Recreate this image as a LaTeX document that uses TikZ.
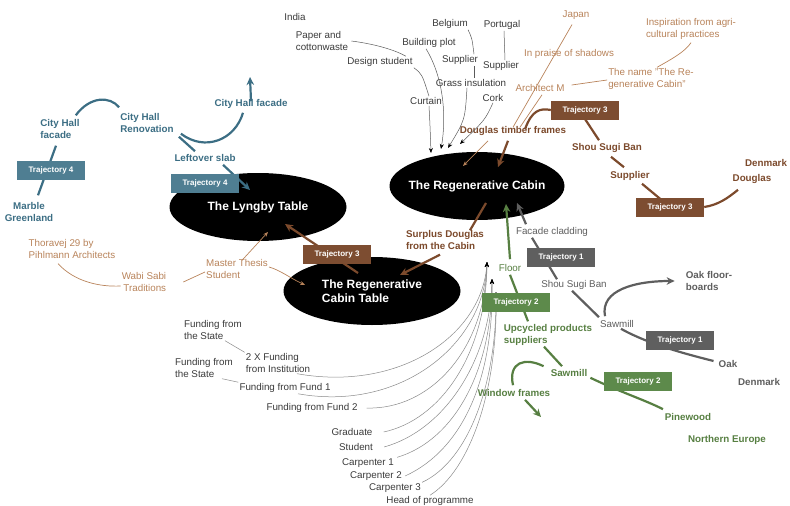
\documentclass[tikz,border=0pt]{standalone}
\usepackage{fontspec}
\setmainfont{Liberation Sans}
\usetikzlibrary{shapes.geometric,arrows.meta,backgrounds}

\definecolor{bluetxt}{HTML}{3C6E84}
\definecolor{bluebox}{HTML}{4F7E92}
\definecolor{browntxt}{HTML}{7C4A2C}
\definecolor{brownbox}{HTML}{7D4D31}
\definecolor{tantxt}{HTML}{B8835A}
\definecolor{graytxt}{HTML}{5E5E5E}
\definecolor{graybox}{HTML}{5F5F5F}
\definecolor{greentxt}{HTML}{577F42}
\definecolor{greenbox}{HTML}{5D8A4B}
\definecolor{textdark}{HTML}{3A3A3A}
\definecolor{linegray}{HTML}{8A8A8A}
\definecolor{topgray}{HTML}{5A5A5A}

\pgfdeclarelayer{back}
\pgfdeclarelayer{front}
\pgfsetlayers{back,main,front}

\tikzset{
  project/.style={ellipse, fill=black, text=white, font=\bfseries\fontsize{12}{14}\selectfont,
    minimum width=177pt, minimum height=68pt, inner sep=0pt, align=center},
  trajbox/.style={fill=#1, text=white, font=\bfseries\fontsize{8}{10}\selectfont,
    minimum width=68pt, minimum height=19pt, inner sep=0pt},
  word/.style={text=#1, font=\fontsize{9.8}{11.8}\selectfont, inner sep=1pt, align=left},
  word/.default=textdark,
  boldword/.style={text=#1, font=\bfseries\fontsize{9.8}{11.8}\selectfont, inner sep=1pt, align=left},
  heavy/.style={draw=#1, line width=2.2pt},
  tanline/.style={draw=tantxt, line width=0.7pt},
  fanline/.style={draw=linegray, line width=0.5pt},
  topline/.style={draw=topgray, line width=0.5pt},
  bigtip/.style={-{Stealth[length=8pt,width=7.5pt]}},
  smalltip/.style={-{Stealth[length=5pt,width=4pt]}},
  blacktip/.style={-{Stealth[length=5pt,width=4pt,color=black]}}
}

\begin{document}
\begin{tikzpicture}[x=1pt,y=-1pt]
\useasboundingbox (0,0) rectangle (790,506);

\begin{pgfonlayer}{back}
\node[project, minimum width=175pt, inner xsep=-7pt] (cabin) at (477,186) {The Regenerative Cabin};
\node[project] (lyngby) at (258,207) {The Lyngby Table};
\node[project, align=left] (cabtable) at (372,291) {The Regenerative\\Cabin Table};
\end{pgfonlayer}

\begin{pgfonlayer}{front}
\node[trajbox=bluebox] (t4left) at (51,170) {Trajectory 4};
\node[trajbox=bluebox] (t4lyngby) at (205,183) {Trajectory 4};
\node[trajbox=brownbox] (t3top) at (585,110) {Trajectory 3};
\node[trajbox=brownbox] (t3low) at (670,207) {Trajectory 3};
\node[trajbox=brownbox] (t3table) at (337,254) {Trajectory 3};
\node[trajbox=graybox] (t1upper) at (561,257) {Trajectory 1};
\node[trajbox=graybox] (t1lower) at (680,340) {Trajectory 1};
\node[trajbox=greenbox] (t2upper) at (516,302) {Trajectory 2};
\node[trajbox=greenbox] (t2lower) at (638,381) {Trajectory 2};
\end{pgfonlayer}

% trajectory 4
\node[boldword=bluetxt] (chfacade) at (60,129) {City Hall\\facade};
\node[boldword=bluetxt] (chreno) at (147,123) {City Hall\\Renovation};
\node[boldword=bluetxt] (chfacade2) at (251,104) {City Hall facade};
\node[boldword=bluetxt] (slab) at (205,158) {Leftover slab};
\node[boldword=bluetxt, align=center] (marble) at (29,212) {Marble\\Greenland};
\coordinate (upend) at (250,77);
\coordinate (lyngbyin) at (250,190);

\draw[heavy=bluetxt] ([xshift=-5pt,yshift=3pt]chfacade.north east) .. controls (90,96) and (110,96) .. ([yshift=5pt]chreno.north west);
\draw[heavy=bluetxt] ([xshift=-4pt,yshift=-6pt]chfacade.south) -- ([xshift=9pt,yshift=6pt]marble.north);
\draw[heavy=bluetxt] ([xshift=-10pt,yshift=2pt]slab.north) -- ([xshift=4pt,yshift=-3pt]chreno.south east);
\draw[heavy=bluetxt] ([xshift=6pt]chreno.south east) .. controls (205,152) and (235,140) .. ([xshift=-8pt,yshift=-3pt]chfacade2.south);
\draw[heavy=bluetxt, bigtip] ([yshift=-3pt]chfacade2.north) -- (upend);
\draw[heavy=bluetxt, bigtip] ([xshift=18pt,yshift=-2pt]slab.south) -- (lyngbyin);

% trajectory 3
\node[boldword=browntxt] (frames) at (513,131) {Douglas timber frames};
\node[boldword=browntxt] (sugiban) at (607,148) {Shou Sugi Ban};
\node[boldword=browntxt] (supplier) at (630,176) {Supplier};
\node[boldword=browntxt] (douglas) at (752,179) {Douglas};
\node[boldword=browntxt] (denmark) at (766,163) {Denmark};
\node[boldword=browntxt] (surplus) at (445,240) {Surplus Douglas\\from the Cabin};
\node[word=tantxt] (japan) at (576,15) {Japan};
\node[word=tantxt] (agri) at (691,29) {Inspiration from agri-\\cultural practices};
\node[word=tantxt] (shadows) at (569,54) {In praise of shadows};
\node[word=tantxt] (thename) at (651,79) {The name "The Re-\\generative Cabin"};
\node[word=tantxt] (architect) at (540,88) {Architect M};
\node[word=tantxt] (thoravej) at (72,249) {Thoravej 29 by\\Pihlmann Architects};
\node[word=tantxt, align=right] (wabisabi) at (144,282) {Wabi Sabi\\Traditions};
\node[word=tantxt] (thesis) at (237,269) {Master Thesis\\Student};
\coordinate (cabinin1) at (498,167);
\coordinate (cabinin2) at (463,166);
\coordinate (lyngbyin2) at (268,232);
\coordinate (lyngbyin3) at (285,224);
\coordinate (tablein1) at (305,285);

\draw[heavy=browntxt] ([xshift=12pt,yshift=-4pt]frames.north) .. controls (532,110) and (540,108) .. (t3top.west);
\draw[heavy=browntxt] ([xshift=-6pt]t3top.center) -- ([xshift=-8pt,yshift=2pt]sugiban.north);
\draw[heavy=browntxt] ([xshift=4pt,yshift=-3pt]sugiban.south) -- ([xshift=-6pt,yshift=3pt]supplier.north);
\draw[heavy=browntxt] ([xshift=12pt,yshift=-2pt]supplier.south) -- (t3low.center);
\draw[heavy=browntxt] (t3low.east) .. controls (718,205) and (728,198) .. ([xshift=-14pt,yshift=-5pt]douglas.south);
\draw[heavy=browntxt, bigtip] ([xshift=-5pt,yshift=-4pt]frames.south) -- (cabinin1);
\draw[tanline, smalltip] ([xshift=-25pt,yshift=-4pt]frames.south) -- (cabinin2);
\draw[tanline] ([yshift=-2pt]frames.north) -- ([xshift=-4pt,yshift=-4pt]japan.south);
\draw[tanline] ([xshift=7pt,yshift=-2pt]frames.north) -- ([xshift=2pt,yshift=-2pt]architect.south);
\draw[tanline] ([xshift=6pt,yshift=3pt]architect.east) -- ([yshift=-1pt]thename.west);
\draw[tanline] ([yshift=-2pt]agri.south) .. controls (685,52) and (670,60) .. ([xshift=6pt]thename.north);
\draw[tanline] ([xshift=-14pt,yshift=-4pt]thoravej.south) .. controls (75,282) and (100,287) .. ([yshift=-4pt]wabisabi.west);
\draw[tanline] ([xshift=16pt]wabisabi.east) -- ([yshift=-3pt]thesis.west);
\draw[tanline, smalltip] ([xshift=5pt,yshift=-2pt]thesis.north) -- (lyngbyin2);
\draw[tanline, smalltip] ([yshift=2pt]thesis.east) .. controls (280,270) and (290,278) .. (tablein1);
\draw[heavy=browntxt, bigtip] ([xshift=-14pt,yshift=18pt]cabtable.center) -- (lyngbyin3);
\draw[heavy=browntxt, bigtip] ([xshift=-5pt,yshift=-4pt]surplus.south) -- ([xshift=28pt,yshift=16pt]cabtable.center);
\draw[heavy=browntxt] ([xshift=9pt,yshift=-17pt]cabin.center) -- ([xshift=25pt,yshift=-1pt]surplus.north);

% trajectory 1
\node[word=graytxt] (cladding) at (552,232) {Facade cladding};
\node[word=graytxt] (sugiban2) at (574,285) {Shou Sugi Ban};
\node[word=graytxt] (sawmill) at (617,324) {Sawmill};
\node[boldword=graytxt] (floorboards) at (709,281) {Oak floor-\\boards};
\node[boldword=graytxt] (oak) at (728,364) {Oak};
\node[boldword=graytxt] (denmark2) at (759,382) {Denmark};
\coordinate (cabinin3) at (517,203);

\draw[heavy=graytxt, bigtip] ([xshift=-26pt,yshift=2pt]cladding.north) -- (cabinin3);
\draw[heavy=graytxt] ([xshift=-20pt]cladding.south) -- ([xshift=-17pt]sugiban2.north);
\draw[heavy=graytxt] ([xshift=-2pt]sugiban2.south) -- ([xshift=-18pt,yshift=2pt]sawmill.north);
\draw[heavy=graytxt, bigtip] ([xshift=-12pt,yshift=3pt]sawmill.north) .. controls (600,290) and (635,281) .. ([xshift=-10pt]floorboards.west);
\draw[heavy=graytxt] ([xshift=4pt]sawmill.south) .. controls (650,345) and (690,355) .. ([xshift=-4pt,yshift=3pt]oak.west);

% trajectory 2
\node[word=greentxt] (floor) at (510,268) {Floor};
\node[boldword=greentxt] (upcycled) at (548,335) {Upcycled products\\suppliers};
\node[boldword=greentxt] (sawmill3) at (569,373) {Sawmill};
\node[boldword=greentxt] (window) at (514,393) {Window frames};
\node[boldword=greentxt] (pinewood) at (688,417) {Pinewood};
\node[boldword=greentxt] (northeu) at (727,440) {Northern Europe};
\coordinate (cabinin4) at (506,204);
\coordinate (windowout) at (541,417);

\draw[heavy=greentxt, bigtip] ([yshift=4pt]floor.north) -- (cabinin4);
\draw[heavy=greentxt] ([yshift=-2pt]floor.south) -- ([xshift=-20pt,yshift=2pt]upcycled.north);
\draw[heavy=greentxt] ([xshift=-4pt]upcycled.south) -- ([xshift=-7pt,yshift=2pt]sawmill3.north);
\draw[heavy=greentxt] ([xshift=-6pt,yshift=2pt]sawmill3.north west) .. controls (525,357) and (508,362) .. ([xshift=-1pt,yshift=3pt]window.north);
\draw[heavy=greentxt, bigtip] ([xshift=11pt,yshift=-2pt]window.south) -- (windowout);
\draw[heavy=greentxt] ([xshift=2pt]sawmill3.south east) .. controls (620,392) and (645,400) .. ([xshift=-25pt,yshift=3pt]pinewood.north);

% funding and people
\node[word] (state1) at (213,330) {Funding from\\the State};
\node[word] (institution) at (278,363) {2 X Funding\\from Institution};
\node[word] (state2) at (204,368) {Funding from\\the State};
\node[word] (fund1) at (285,388) {Funding from Fund 1};
\node[word] (fund2) at (312,408) {Funding from Fund 2};
\node[word] (graduate) at (352,432) {Graduate};
\node[word] (student) at (356,447) {Student};
\node[word] (carp1) at (368,463) {Carpenter 1};
\node[word] (carp2) at (376,476) {Carpenter 2};
\node[word] (carp3) at (395,488) {Carpenter 3};
\node[word] (head) at (430,501) {Head of programme};
\coordinate (fantipA) at (487,262);
\coordinate (fantipB) at (492,279);
\coordinate (fantipC) at (496,292);

\draw[fanline] ([xshift=12pt]state1.south) -- (institution.north west);
\draw[fanline] ([xshift=18pt]state2.south) -- (fund1.north west);
\draw[fanline, blacktip] ([xshift=19pt]institution.south) .. controls (400,392) and (482,335) .. (fantipA);
\draw[fanline, blacktip] ([xshift=13pt]fund1.south) .. controls (400,412) and (484,345) .. (fantipA);
\draw[fanline, blacktip] ([xshift=8pt]fund2.east) .. controls (430,410) and (485,350) .. (fantipA);
\draw[fanline, blacktip] ([xshift=10pt]graduate.east) .. controls (440,420) and (486,355) .. (fantipA);
\draw[fanline, blacktip] ([xshift=10pt]student.east) .. controls (445,430) and (490,360) .. (fantipB);
\draw[fanline, blacktip] ([xshift=2pt]carp1.north east) .. controls (455,440) and (492,370) .. (fantipB);
\draw[fanline, blacktip] ([xshift=2pt]carp2.east) .. controls (462,450) and (494,380) .. (fantipB);
\draw[fanline, blacktip] (carp3.north east) .. controls (470,460) and (497,380) .. (fantipC);
\draw[fanline, blacktip] (head.north) .. controls (470,470) and (498,390) .. (fantipC);

% materials for the cabin
\node[word] (india) at (295,17) {India};
\node[word] (paper) at (322,41) {Paper and\\cottonwaste};
\node[word] (designer) at (380,62) {Design student};
\node[word] (curtain) at (426,101) {Curtain};
\node[word] (plot) at (429,43) {Building plot};
\node[word] (belgium) at (450,24) {Belgium};
\node[word] (portugal) at (502,25) {Portugal};
\node[word] (supplierA) at (460,60) {Supplier};
\node[word] (supplierB) at (501,66) {Supplier};
\node[word] (grass) at (471,83) {Grass insulation};
\node[word] (cork) at (493,98) {Cork};
\coordinate (toptipA) at (431,153);
\coordinate (toptipB) at (441,149);
\coordinate (toptipC) at (448,148);
\coordinate (toptipD) at (460,144);

\draw[topline] ([xshift=2pt]paper.east) .. controls (375,44) and (395,50) .. ([xshift=-8pt]designer.north east);
\draw[topline] (designer.south east) .. controls (422,74) .. ([xshift=3pt]curtain.north);
\draw[topline, blacktip] ([xshift=3pt]curtain.south) .. controls (430,125) .. (toptipA);
\draw[topline, blacktip] ([xshift=-3pt]plot.south) .. controls (445,80) and (446,120) .. (toptipB);
\draw[topline] ([xshift=18pt]belgium.south) .. controls (472,38) .. ([xshift=14pt]supplierA.north);
\draw[topline] ([xshift=14pt]supplierA.south) -- ([xshift=3pt]grass.north);
\draw[topline, blacktip] ([xshift=-4pt]grass.south) .. controls (465,120) .. (toptipC);
\draw[topline] ([xshift=2pt]portugal.south) -- ([xshift=4pt]supplierB.north);
\draw[topline, blacktip] (cork.south) .. controls (485,120) .. (toptipD);
\end{tikzpicture}
\end{document}
